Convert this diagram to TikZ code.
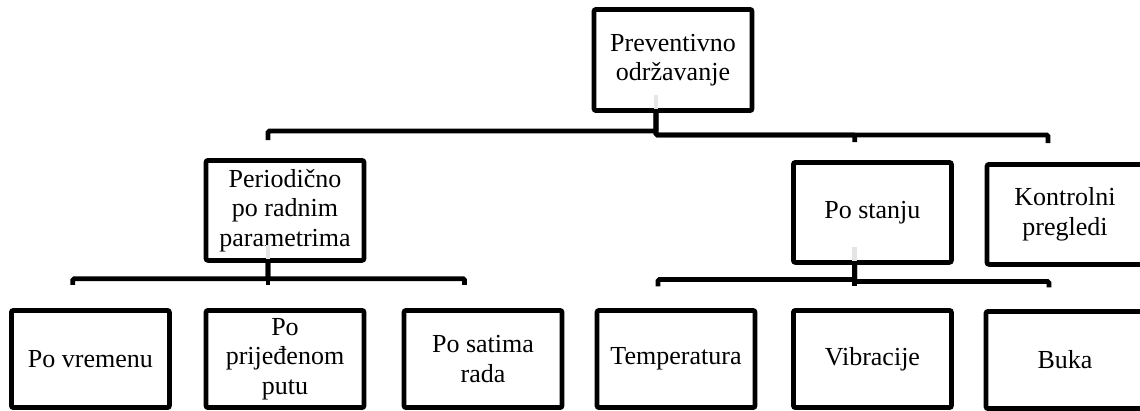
\documentclass[tikz,border=0pt]{standalone}
\usepackage{fontspec}
\setmainfont{Liberation Serif}
\usetikzlibrary{positioning}

\begin{document}
\begin{tikzpicture}[
        box/.style={draw, line width=3.4pt, rounded corners=1.5pt, fill=white, minimum width=3.95cm, minimum height=2.5cm, align=center, inner sep=0pt, font=\fontsize{18.5}{21}\selectfont},
        leaf/.style={box, minimum height=2.43cm},
        bus/.style={line width=3.4pt, rounded corners=1pt},
        ghost/.style={line width=3.4pt, draw=gray!20}
      ]
      \useasboundingbox (0,0) rectangle (28.5,-10.25);

      \node[box, minimum height=2.53cm] (root) at (16.825,-1.5) {Preventivno\\održavanje};

      \node[box] (periodicno) at (7.125,-5.26) {Periodično\\po radnim\\parametrima};
      \node[box] (postanju) at (21.81,-5.31) {Po stanju};
      \node[box, minimum width=3.9cm] (kontrolni) at (26.625,-5.36) {Kontrolni\\pregledi};

      \node[leaf] (vreme) at (2.26,-8.975) {Po vremenu};
      \node[leaf] (predjeno) at (7.125,-8.975) {Po\\prijeđenom\\putu};
      \node[leaf] (sati) at (12.075,-8.975) {Po satima\\rada};
      \node[leaf] (temp) at (16.9,-8.975) {Temperatura};
      \node[leaf] (vibr) at (21.81,-8.975) {Vibracije};
      \node[leaf] (buka) at (26.625,-9.0) {Buka};

      % stems showing through the boxes
      \draw[ghost] ([xshift=-4.25mm,yshift=0.1cm]root.south) -- ++(0,0.35);
      \draw[ghost] ([xshift=-4.25mm,yshift=0.1cm]periodicno.south) -- ++(0,0.35);
      \draw[ghost] ([xshift=-4.4mm,yshift=0.1cm]postanju.south) -- ++(0,0.35);

      \draw[bus] ([xshift=-4.25mm]root.south) -- ++(0,-0.45) -| ([xshift=-4.25mm,yshift=4.5mm]periodicno.north);
      \draw[bus] ([xshift=-4.25mm]root.south) -- ++(0,-0.55) -| ([xshift=-4.4mm,yshift=4.5mm]postanju.north);
      \draw[bus] ([xshift=-4.25mm]root.south) -- ++(0,-0.55) -| ([xshift=-4.25mm,yshift=4.75mm]kontrolni.north);

      \draw[bus] ([xshift=-4.25mm]periodicno.south) -- ++(0,-0.4) -| ([xshift=-4.4mm,yshift=5.8mm]vreme.north);
      \draw[bus] ([xshift=-4.25mm]periodicno.south) -- ([xshift=-4.25mm,yshift=5.8mm]predjeno.north);
      \draw[bus] ([xshift=-4.25mm]periodicno.south) -- ++(0,-0.4) -| ([xshift=-4.6mm,yshift=5.8mm]sati.north);

      \draw[bus] ([xshift=-4.4mm]postanju.south) -- ++(0,-0.37) -| ([xshift=-4.5mm,yshift=5.4mm]temp.north);
      \draw[bus] ([xshift=-4.4mm]postanju.south) -- ([xshift=-4.4mm,yshift=5.4mm]vibr.north);
      \draw[bus] ([xshift=-4.4mm]postanju.south) -- ++(0,-0.42) -| ([xshift=-4.0mm,yshift=5.4mm]buka.north);
    \end{tikzpicture}
\end{document}
